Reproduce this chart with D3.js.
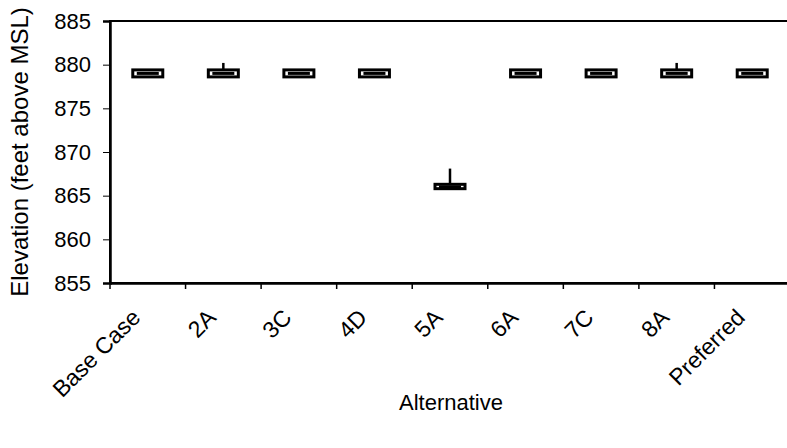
<!DOCTYPE html>
<html><head><meta charset="utf-8">
<script src="https://cdn.jsdelivr.net/npm/d3@7"></script>
<style>body{margin:0;background:#fff}svg{display:block}text{font-family:"Liberation Sans",Arial,sans-serif;fill:#000}</style>
</head><body><svg id="c" width="787" height="448"></svg>
<script>
const categories = ["Base Case","2A","3C","4D","5A","6A","7C","8A","Preferred"];
const minVals    = [878.6, 878.6, 878.6, 878.6, 865.8, 878.6, 878.6, 878.6, 878.6];
const q1Vals     = [878.6, 878.6, 878.6, 878.6, 865.8, 878.6, 878.6, 878.6, 878.6];
const medVals    = [879.0, 879.0, 879.0, 879.0, 866.0, 879.0, 879.0, 879.0, 879.0];
const q3Vals     = [879.4, 879.4, 879.4, 879.4, 866.3, 879.4, 879.4, 879.4, 879.4];
const maxVals    = [879.4, 880.2, 879.4, 879.4, 868.1, 879.4, 879.4, 880.2, 879.4];
const yTicks     = [855, 860, 865, 870, 875, 880, 885];

const svg = d3.select("#c");
const m = {l:110, t:21};
const W = 680, H = 262;
const g = svg.append("g").attr("transform",`translate(${m.l},${m.t})`);
const x = d3.scaleBand().domain(categories).range([0,W]).padding(0);
const y = d3.scaleLinear().domain([855,885]).range([H,0]);

// frame
g.append("rect").attr("x",0).attr("y",0).attr("width",W).attr("height",H)
 .attr("fill","none").attr("stroke","#000").attr("stroke-width",2);

// y axis
const ya = g.append("g").call(d3.axisLeft(y).tickValues(yTicks).tickSize(7).tickPadding(12).tickFormat(d3.format("d")));
ya.select(".domain").attr("stroke-width",2.5);
ya.selectAll("text").style("font-size","22px");
// x axis
const xa = g.append("g").attr("transform",`translate(0,${H})`)
  .call(d3.axisBottom(x).tickSize(0).tickPadding(0));
xa.select(".domain").attr("stroke-width",2.5);
xa.selectAll(".tick line").remove();
xa.selectAll("text").style("font-size","23px").attr("text-anchor","end")
  .attr("transform","translate(-6,36) rotate(-45)").attr("dy","0");
// boundary ticks
g.append("g").selectAll("line").data(d3.range(categories.length+1)).join("line")
 .attr("x1",i=>i*x.bandwidth()).attr("x2",i=>i*x.bandwidth())
 .attr("y1",H).attr("y2",H+6).attr("stroke","#000").attr("stroke-width",1.5);

const data = categories.map((c,i)=>({c,min:minVals[i],q1:q1Vals[i],med:medVals[i],q3:q3Vals[i],max:maxVals[i]}));
const bw = 30;
const bx = g.append("g").selectAll("g").data(data).join("g")
  .attr("transform",d=>`translate(${x(d.c)+x.bandwidth()/2},0)`);
bx.append("line").attr("y1",d=>y(d.max)).attr("y2",d=>y(d.q3)).attr("stroke","#000").attr("stroke-width",2.5);
bx.append("line").attr("y1",d=>y(d.min)).attr("y2",d=>y(d.q1)).attr("stroke","#000").attr("stroke-width",2.5);
bx.append("rect").attr("x",-bw/2).attr("width",bw)
  .attr("y",d=>y(d.q3)).attr("height",d=>Math.max(1,y(d.q1)-y(d.q3)))
  .attr("fill","#fff").attr("stroke","#000").attr("stroke-width",3);
bx.append("line").attr("x1",-bw/2+4).attr("x2",bw/2-4).attr("y1",d=>y(d.med)).attr("y2",d=>y(d.med))
  .attr("stroke","#000").attr("stroke-width",3);

// axis titles
svg.append("text").attr("x",451).attr("y",410).attr("text-anchor","middle").style("font-size","22px").text("Alternative");
svg.append("text").attr("transform","translate(28,152) rotate(-90)").attr("text-anchor","middle")
  .style("font-size","24px").text("Elevation (feet above MSL)");
</script></body></html>
